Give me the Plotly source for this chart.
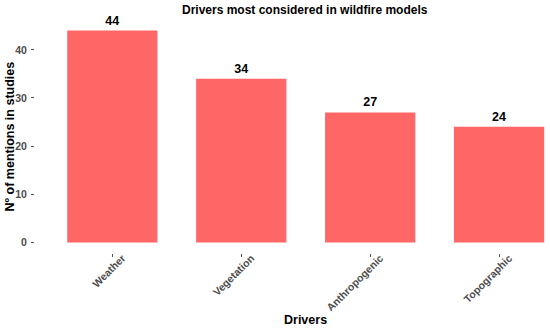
import plotly.graph_objects as go

drivers = ["Weather", "Vegetation", "Anthropogenic", "Topographic"]
mentions = [44, 34, 27, 24]
y_ticks = [0, 10, 20, 30, 40]

bar_color = "#FF6767"
font_fam = "Liberation Sans, Arial, sans-serif"

fig = go.Figure(
    go.Bar(
        x=drivers,
        y=mentions,
        width=0.7,
        marker=dict(color=bar_color, line=dict(width=0)),
        text=[str(v) for v in mentions],
        textposition="outside",
        cliponaxis=False,
        textfont=dict(family=font_fam, size=12.5, color="black", weight="bold"),
    )
)

fig.update_layout(
    width=550,
    height=330,
    margin=dict(l=35, r=0, t=20, b=77, autoexpand=False),
    plot_bgcolor="white",
    paper_bgcolor="white",
    showlegend=False,
    xaxis=dict(
        range=[-0.6, 3.395],
        tickangle=-45,
        ticks="outside",
        ticklen=3,
        tickcolor="#555555",
        tickfont=dict(family=font_fam, size=10.5, color="#4d4d4d", weight="bold"),
        ticklabelshift=10,
        ticklabelstandoff=-9,
        ticklabeloverflow="allow",
        showgrid=False,
        zeroline=False,
        showline=False,
        automargin=False,
    ),
    yaxis=dict(
        range=[-2.2, 46.2],
        tickvals=y_ticks,
        ticks="outside",
        ticklen=3,
        tickcolor="#555555",
        tickfont=dict(family=font_fam, size=10.5, color="#4d4d4d", weight="bold"),
        ticklabelstandoff=2,
        showgrid=False,
        zeroline=False,
        showline=False,
        automargin=False,
    ),
    annotations=[
        dict(
            text="Drivers most considered in wildfire models",
            xref="paper", yref="paper",
            x=(305 - 35) / 515, y=1.0,
            yshift=10,
            xanchor="center", yanchor="middle",
            showarrow=False,
            font=dict(family=font_fam, size=12, color="black", weight="bold"),
        ),
        dict(
            text="Drivers",
            xref="paper", yref="paper",
            x=(305 - 35) / 515, y=0.0,
            yshift=-(320 - 253),
            xanchor="center", yanchor="middle",
            showarrow=False,
            font=dict(family=font_fam, size=12.5, color="black", weight="bold"),
        ),
        dict(
            text="Nº of mentions in studies",
            xref="paper", yref="paper",
            x=0.0, y=0.5,
            xshift=-(35 - 9),
            xanchor="center", yanchor="middle",
            textangle=-90,
            showarrow=False,
            font=dict(family=font_fam, size=12.5, color="black", weight="bold"),
        ),
    ],
)

fig.write_html(
    "out.html",
    config={"displayModeBar": False},
    post_script="document.body.style.margin='0';document.body.style.overflow='hidden';",
)
